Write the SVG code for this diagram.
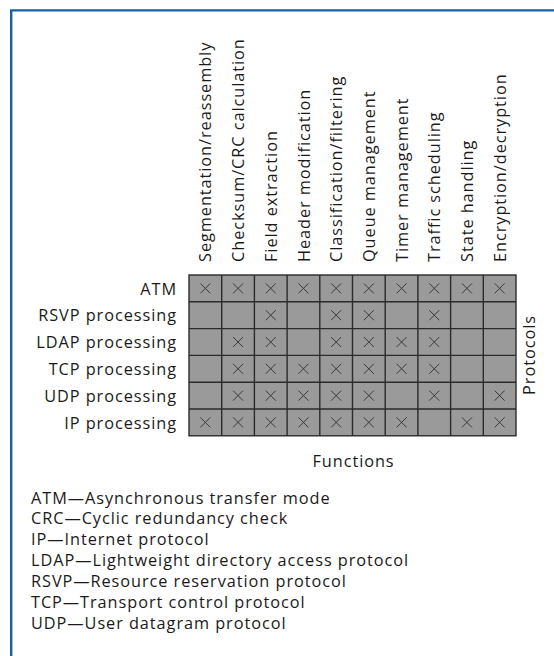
<svg xmlns="http://www.w3.org/2000/svg" width="554" height="656" viewBox="0 0 554 656">
<style>
text{font-family:"Open Sans","Noto Sans","Liberation Sans",sans-serif;font-size:16.3px;letter-spacing:0.95px;fill:#1a1a1a}
.cell{fill:#9a9a9a;stroke:#2b2b2b;stroke-width:1.4}
.x{stroke:#3a3a3a;stroke-width:1;fill:none}
.rl{text-anchor:end}
.frame{stroke:#1b5fa8;stroke-width:2.4;fill:none}
</style>
<defs>
<path id="xm" class="x" d="M-5,-5L5,5M-5,5L5,-5"/>
</defs>
<rect width="554" height="656" fill="#fff"/>
<path class="frame" d="M11.2,656V10.4H554"/>
<g id="headers">
<text transform="translate(211.4,262) rotate(-90)">Segmentation/reassembly</text>
<text transform="translate(244.1,262) rotate(-90)">Checksum/CRC calculation</text>
<text transform="translate(276.8,262) rotate(-90)">Field extraction</text>
<text transform="translate(309.5,262) rotate(-90)">Header modification</text>
<text transform="translate(342.2,262) rotate(-90)">Classification/filtering</text>
<text transform="translate(374.9,262) rotate(-90)">Queue management</text>
<text transform="translate(407.6,262) rotate(-90)">Timer management</text>
<text transform="translate(440.3,262) rotate(-90)">Traffic scheduling</text>
<text transform="translate(473,262) rotate(-90)">State handling</text>
<text transform="translate(505.7,262) rotate(-90)">Encryption/decryption</text>
</g>
<g id="grid">
<g id="cells">
<rect class="cell" x="189" y="275" width="327" height="160.8"/>
<path stroke="#2b2b2b" stroke-width="1.4" d="M221.7,275V435.8M254.4,275V435.8M287.1,275V435.8M319.8,275V435.8M352.5,275V435.8M385.2,275V435.8M417.9,275V435.8M450.6,275V435.8M483.3,275V435.8M189,301.8H516M189,328.6H516M189,355.4H516M189,382.2H516M189,409H516"/>
</g>
<g id="row-atm">
<text class="rl" x="177" y="294.5">ATM</text>
<use href="#xm" x="205.35" y="288.4"/><use href="#xm" x="238.05" y="288.4"/><use href="#xm" x="270.75" y="288.4"/><use href="#xm" x="303.45" y="288.4"/><use href="#xm" x="336.15" y="288.4"/><use href="#xm" x="368.85" y="288.4"/><use href="#xm" x="401.55" y="288.4"/><use href="#xm" x="434.25" y="288.4"/><use href="#xm" x="466.95" y="288.4"/><use href="#xm" x="499.65" y="288.4"/>
</g>
<g id="row-rsvp">
<text class="rl" x="177" y="321.3">RSVP processing</text>
<use href="#xm" x="270.75" y="315.2"/><use href="#xm" x="336.15" y="315.2"/><use href="#xm" x="368.85" y="315.2"/><use href="#xm" x="434.25" y="315.2"/>
</g>
<g id="row-ldap">
<text class="rl" x="177" y="348.1">LDAP processing</text>
<use href="#xm" x="238.05" y="342"/><use href="#xm" x="270.75" y="342"/><use href="#xm" x="336.15" y="342"/><use href="#xm" x="368.85" y="342"/><use href="#xm" x="401.55" y="342"/><use href="#xm" x="434.25" y="342"/>
</g>
<g id="row-tcp">
<text class="rl" x="177" y="374.9">TCP processing</text>
<use href="#xm" x="238.05" y="368.8"/><use href="#xm" x="270.75" y="368.8"/><use href="#xm" x="303.45" y="368.8"/><use href="#xm" x="336.15" y="368.8"/><use href="#xm" x="368.85" y="368.8"/><use href="#xm" x="401.55" y="368.8"/><use href="#xm" x="434.25" y="368.8"/>
</g>
<g id="row-udp">
<text class="rl" x="177" y="401.7">UDP processing</text>
<use href="#xm" x="238.05" y="395.6"/><use href="#xm" x="270.75" y="395.6"/><use href="#xm" x="303.45" y="395.6"/><use href="#xm" x="336.15" y="395.6"/><use href="#xm" x="368.85" y="395.6"/><use href="#xm" x="434.25" y="395.6"/><use href="#xm" x="499.65" y="395.6"/>
</g>
<g id="row-ip">
<text class="rl" x="177" y="428.5">IP processing</text>
<use href="#xm" x="205.35" y="422.4"/><use href="#xm" x="238.05" y="422.4"/><use href="#xm" x="270.75" y="422.4"/><use href="#xm" x="303.45" y="422.4"/><use href="#xm" x="336.15" y="422.4"/><use href="#xm" x="368.85" y="422.4"/><use href="#xm" x="401.55" y="422.4"/><use href="#xm" x="466.95" y="422.4"/><use href="#xm" x="499.65" y="422.4"/>
</g>
</g>
<g id="axis-labels">
<text transform="translate(535,355) rotate(-90)" text-anchor="middle">Protocols</text>
<text x="353.5" y="467" text-anchor="middle">Functions</text>
</g>
<g id="legend">
<text x="31" y="503.5">ATM—Asynchronous transfer mode</text>
<text x="31" y="524.4">CRC—Cyclic redundancy check</text>
<text x="31" y="545.3">IP—Internet protocol</text>
<text x="31" y="566.2">LDAP—Lightweight directory access protocol</text>
<text x="31" y="587.1">RSVP—Resource reservation protocol</text>
<text x="31" y="608">TCP—Transport control protocol</text>
<text x="31" y="628.9">UDP—User datagram protocol</text>
</g>
</svg>
